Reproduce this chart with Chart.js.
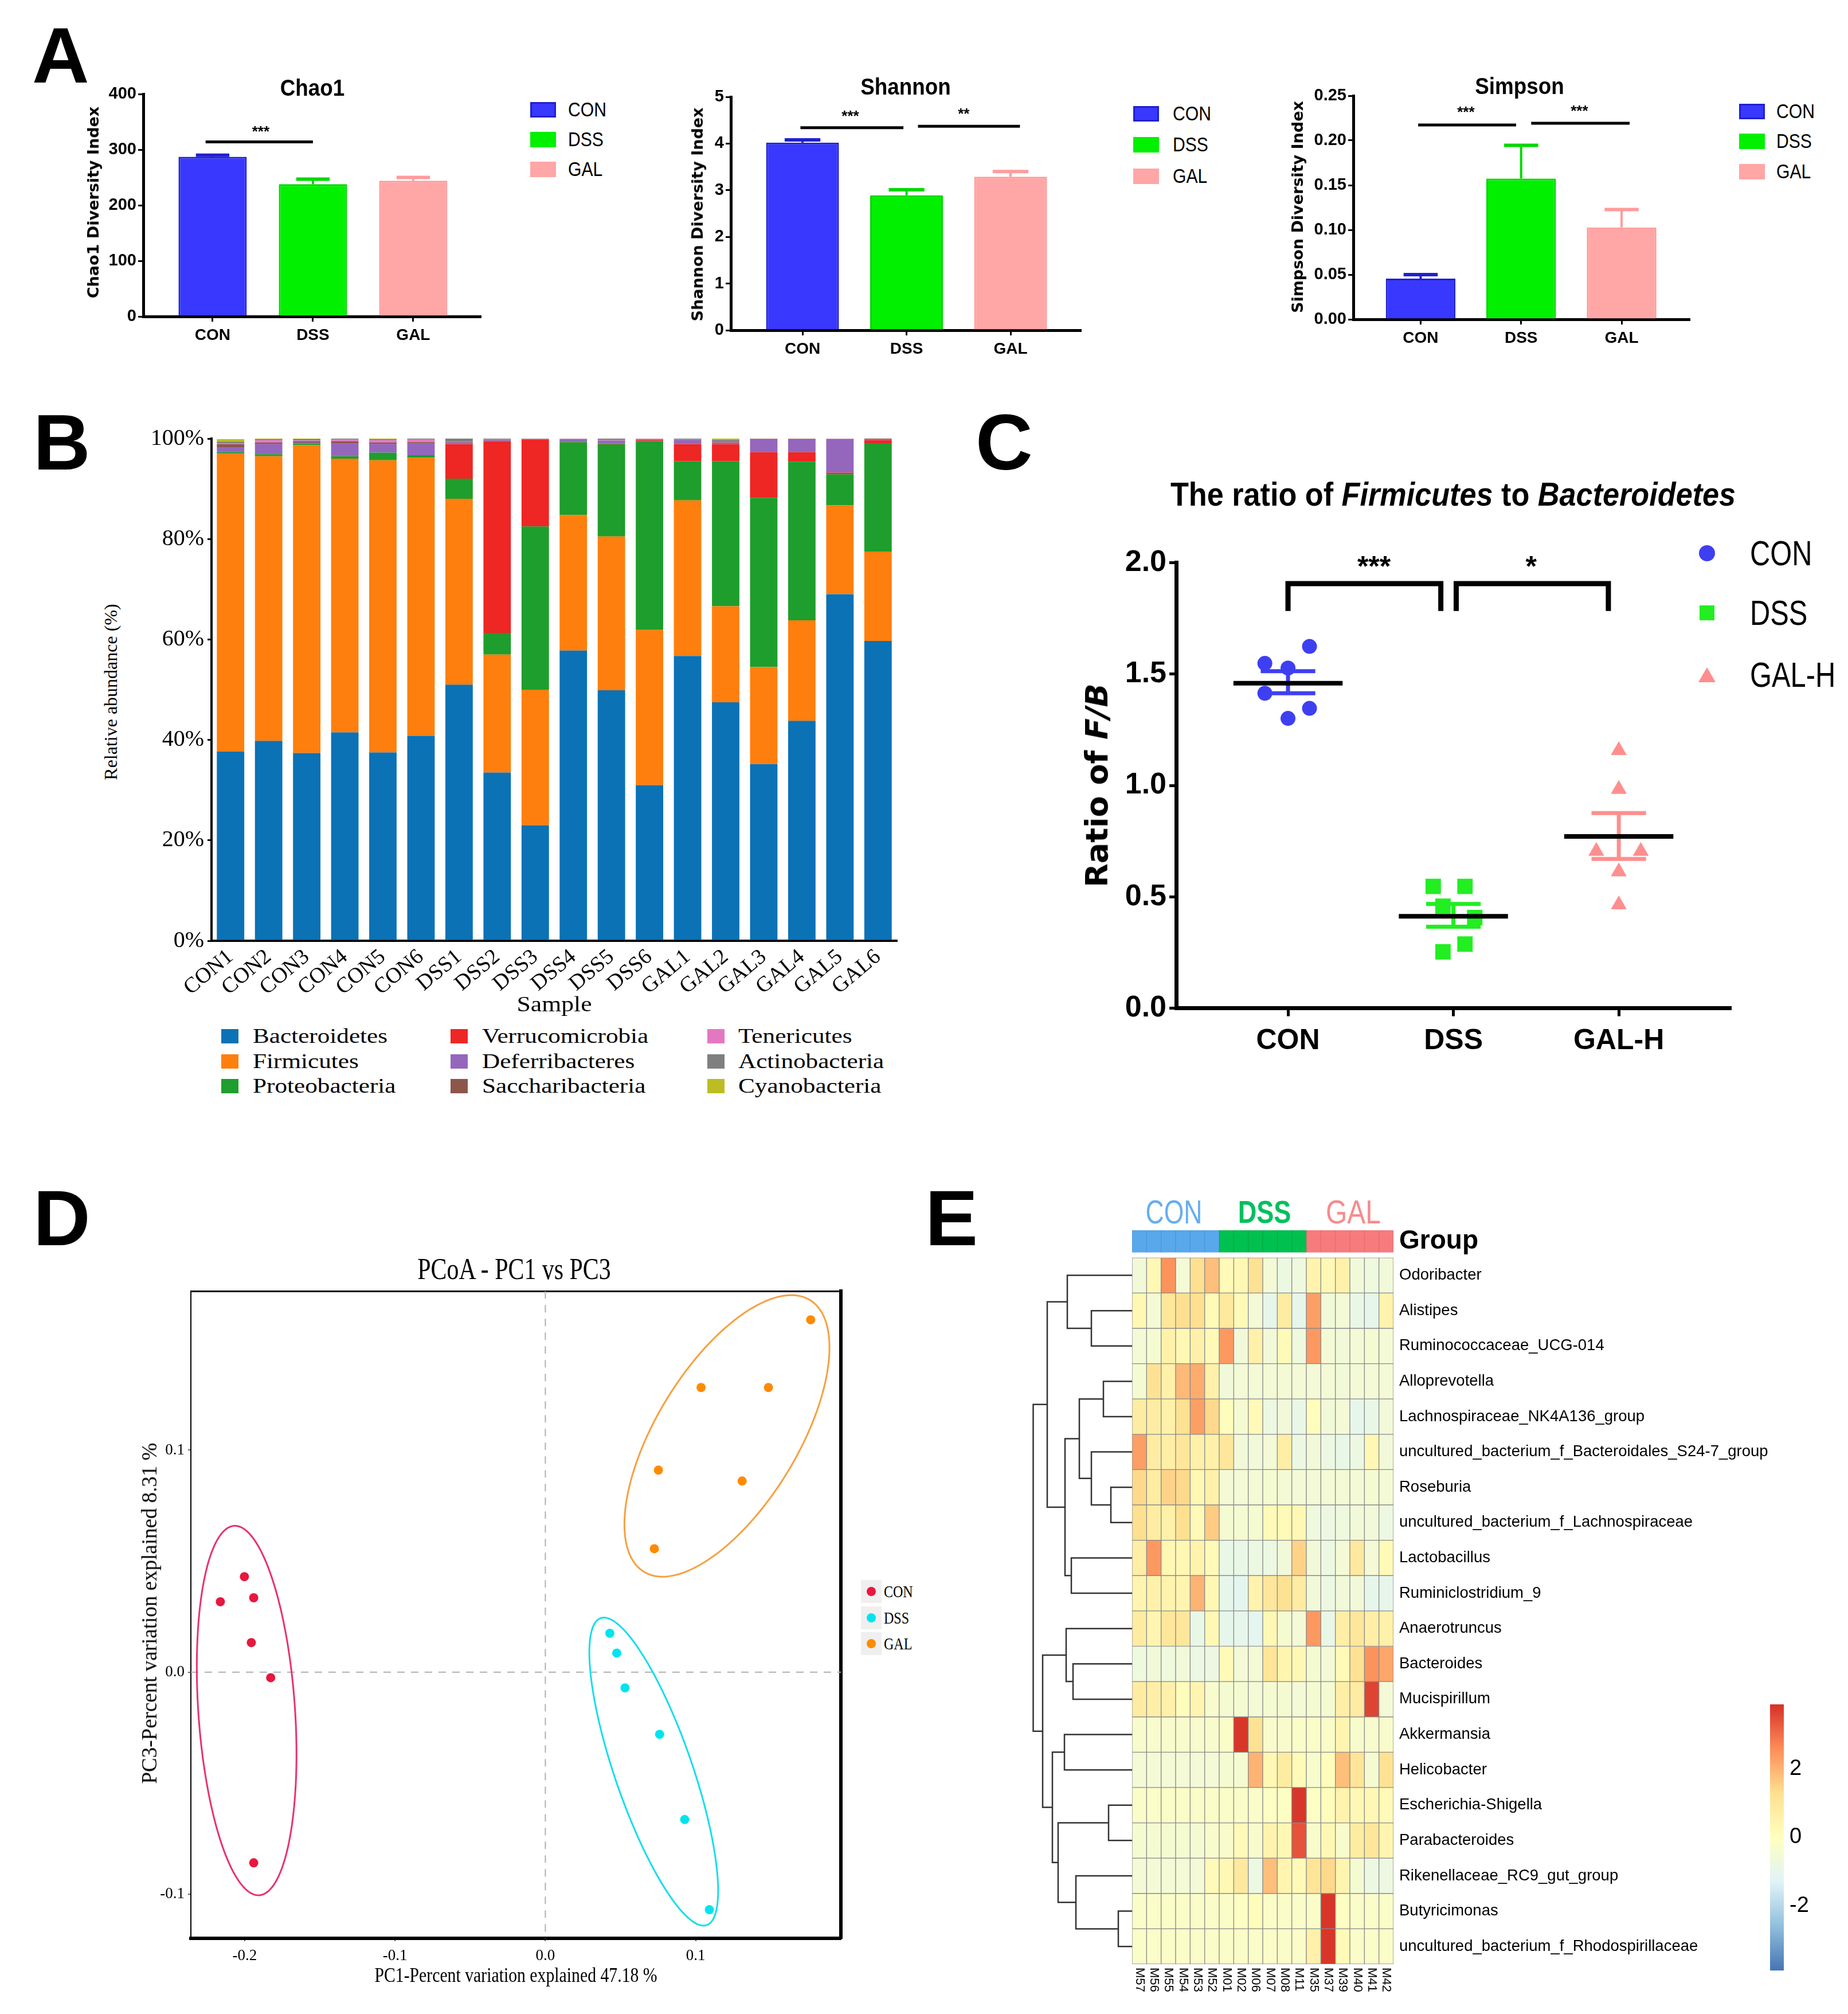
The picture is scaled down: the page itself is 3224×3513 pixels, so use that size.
<!DOCTYPE html>
<html><head><meta charset="utf-8">
<script src="https://cdn.jsdelivr.net/npm/chart.js@4.4.1/dist/chart.umd.min.js"></script>
<style>
html,body{margin:0;padding:0;background:#fff;}
#page{position:relative;width:3224px;height:3513px;overflow:hidden;background:#fff;}
#page canvas{position:absolute;}
.t{position:absolute;white-space:nowrap;}
</style></head><body><div id="page"></div>
<script>
/* ================= DATA ================= */
/* Panel A : alpha diversity (mean, SEM) */
const groupsA = ['CON', 'DSS', 'GAL'];
const chaoMean = [287, 238, 244];
const chaoSem = [3, 9, 6];
const shannonMean = [4.02, 2.89, 3.29];
const shannonSem = [0.06, 0.12, 0.11];
const simpsonMean = [0.0455, 0.1574, 0.1028];
const simpsonSem = [0.0045, 0.0372, 0.0200];
const chaoSig = [{from: 0.93, to: 2.0, y: 314, label: '***', lx: 1.48, ly: 336}];
const shannonSig = [{from: 0.98, to: 1.97, y: 4.34, label: '***', lx: 1.46, ly: 4.63},
                    {from: 2.11, to: 3.09, y: 4.37, label: '**', lx: 2.55, ly: 4.68}];
const simpsonSig = [{from: 0.975, to: 1.95, y: 0.2173, label: '***', lx: 1.45, ly: 0.234},
                    {from: 2.10, to: 3.08, y: 0.2192, label: '***', lx: 2.58, ly: 0.2353}];

/* Panel B : relative abundance of phyla (%) */
const samplesB = ['CON1','CON2','CON3','CON4','CON5','CON6','DSS1','DSS2','DSS3','DSS4','DSS5','DSS6','GAL1','GAL2','GAL3','GAL4','GAL5','GAL6'];
const phylaB = ['Bacteroidetes','Firmicutes','Proteobacteria','Verrucomicrobia','Deferribacteres','Saccharibacteria','Tenericutes','Actinobacteria','Cyanobacteria'];
const bacteroidetes   = [37.7,39.8,37.4,41.5,37.5,40.8,51.0,33.5,23.0,57.8,49.9,31.0,56.7,47.5,35.2,43.8,69.0,59.7];
const firmicutes      = [59.3,56.7,61.3,54.5,58.2,55.4,37.0,23.5,27.0,27.0,30.6,30.9,31.0,19.1,19.3,20.0,17.7,17.8];
const proteobacteria  = [0.3,0.4,0.3,0.5,1.5,0.5,4.0,4.3,32.5,14.5,18.4,37.6,7.8,28.9,33.7,31.6,6.2,21.6];
const verrucomicrobia = [0,0,0,0,0,0,6.9,38.2,17.3,0.1,0.1,0.2,3.4,3.4,9.1,1.9,0.3,0.6];
const deferribacteres = [1.0,2.0,0.2,2.5,1.7,2.3,0.3,0.2,0.1,0.4,0.6,0.1,0.8,0.2,2.6,2.6,6.7,0.1];
const saccharibacteria= [0.6,0.3,0.3,0.5,0.3,0.3,0.1,0.1,0.05,0.1,0.1,0.1,0.1,0.1,0.05,0.05,0,0.3];
const tenericutes     = [0.2,0.5,0.1,0.3,0.5,0.5,0.05,0.05,0.05,0.05,0.05,0.05,0.05,0.05,0.05,0.05,0.05,0.05];
const actinobacteria  = [0.3,0.2,0.3,0.2,0.2,0.2,0.8,0.3,0.05,0.2,0.5,0.3,0.3,0.5,0.1,0.1,0.1,0.1];
const cyanobacteria   = [0.5,0.2,0.2,0.1,0.1,0.1,0.05,0.05,0.05,0.05,0.05,0.05,0.05,0.6,0.05,0.05,0.05,0.05];
const phylaValues = [bacteroidetes, firmicutes, proteobacteria, verrucomicrobia, deferribacteres, saccharibacteria, tenericutes, actinobacteria, cyanobacteria];
const phylaColors = ['#0B72B6','#FF7F0E','#1E9E2C','#EE2624','#9467BD','#8C564B','#E377C2','#7F7F7F','#BCBD22'];

/* Panel C : F/B ratio */
const groupsC = ['CON', 'DSS', 'GAL-H'];
const conX = [0.86, 1.0, 1.13, 0.86, 1.13, 1.0];
const conY = [1.548, 1.527, 1.624, 1.414, 1.346, 1.301];
const dssX = [1.878, 2.07, 1.937, 2.129, 2.07, 1.937];
const dssY = [0.547, 0.547, 0.458, 0.407, 0.288, 0.253];
const galX = [3.0, 3.0, 2.864, 3.133, 3.0, 3.0];
const galY = [1.157, 0.983, 0.705, 0.705, 0.613, 0.465];
const cMean = [1.459, 0.413, 0.771];
const cSemHi = [1.513, 0.468, 0.876];
const cSemLo = [1.414, 0.366, 0.670];
const cBrackets = [{from: 1.0, to: 1.924, top: 1.906, leg: 1.783, label: '***', lx: 1.52, ly: 2.0},
                   {from: 2.017, to: 2.937, top: 1.906, leg: 1.783, label: '*', lx: 2.47, ly: 2.0}];

/* Panel D : PCoA */
const groupsD = ['CON', 'DSS', 'GAL'];
const pcoaConX = [-0.2162, -0.2002, -0.1940, -0.1956, -0.1827, -0.1940];
const pcoaConY = [0.0317, 0.0430, 0.0335, 0.0133, -0.0025, -0.0859];
const pcoaDssX = [0.0429, 0.0475, 0.0530, 0.0760, 0.0927, 0.1091];
const pcoaDssY = [0.0175, 0.0086, -0.0071, -0.0280, -0.0664, -0.1070];
const pcoaGalX = [0.1765, 0.1036, 0.1484, 0.0752, 0.1309, 0.0725];
const pcoaGalY = [0.1587, 0.1282, 0.1282, 0.0910, 0.0861, 0.0556];
const ellipseCenter = [[-0.1987, -0.0173], [0.0721, -0.0448], [0.1208, 0.1064]];
const ellipseAxisA  = [[-0.0083, 0.0832], [-0.0350, 0.0692], [0.0539, 0.0617]];
const ellipseAxisB  = [[-0.0321, -0.0013], [-0.0247, -0.0050], [-0.0418, 0.0146]];
const pcoaTicksX = [-0.2, -0.1, 0.0, 0.1];
const pcoaTicksY = [-0.1, 0.0, 0.1];

/* Panel E : heatmap (z-scores) */
const hmCols = ['M57','M56','M55','M54','M53','M52','M01','M02','M06','M07','M08','M11','M35','M37','M39','M40','M41','M42'];
const hmColGroup = ['CON','CON','CON','CON','CON','CON','DSS','DSS','DSS','DSS','DSS','DSS','GAL','GAL','GAL','GAL','GAL','GAL'];
const hmRows = ['Odoribacter','Alistipes','Ruminococcaceae_UCG-014','Alloprevotella','Lachnospiraceae_NK4A136_group',
  'uncultured_bacterium_f_Bacteroidales_S24-7_group','Roseburia','uncultured_bacterium_f_Lachnospiraceae','Lactobacillus',
  'Ruminiclostridium_9','Anaerotruncus','Bacteroides','Mucispirillum','Akkermansia','Helicobacter','Escherichia-Shigella',
  'Parabacteroides','Rikenellaceae_RC9_gut_group','Butyricimonas','uncultured_bacterium_f_Rhodospirillaceae'];
const hmValues = [
  [-0.6,0.3,2.5,-0.5,1.3,1.8,0.2,0.3,1.2,-0.5,-0.8,-0.7,0.5,0.3,0.6,-0.6,-0.7,-0.6],
  [0.3,-0.5,1.0,1.3,1.3,0.2,0.9,0.2,-0.5,-1.0,0.8,-1.0,2.3,-0.6,-0.5,-0.9,-1.0,0.5],
  [-0.5,-0.4,0.6,0.3,0.6,0.2,2.4,-0.6,0.6,-0.6,0.2,-0.7,2.4,-0.5,-0.6,-0.5,-0.4,-0.5],
  [-0.4,1.2,0.6,1.9,2.1,0.6,-0.6,-0.5,-0.5,-0.5,-0.5,-0.5,-0.5,-0.5,-0.6,-0.5,-0.5,-0.5],
  [0.8,0.8,0.6,1.2,2.3,1.4,0.1,-0.4,0.2,-0.8,-0.6,-0.9,0.1,-0.6,-0.5,-1.0,-0.9,-0.6],
  [2.3,0.8,0.7,1.0,0.6,0.6,1.0,-0.6,-0.6,-0.5,0.7,-0.8,-0.6,-0.8,-0.9,-0.8,0.3,-0.6],
  [1.4,0.8,1.5,1.4,0.3,0.6,-0.5,-0.5,-0.5,-0.4,-0.5,-0.5,-0.5,-0.5,-0.5,-0.5,-0.4,-0.5],
  [1.3,0.8,0.6,1.3,0.2,1.6,-0.4,-0.4,-0.4,0.2,0.2,0.3,-0.7,-0.8,-0.7,-0.6,-0.6,-0.8],
  [0.7,2.4,0.3,0.3,0.5,0.2,-0.9,-0.9,-0.8,-0.8,-0.6,1.5,-0.6,-0.8,-0.5,0.9,-0.5,0.2],
  [0.4,0.6,0.5,0.4,2.0,0.3,-1.0,-1.1,0.5,1.0,1.2,0.8,-0.6,-0.8,-0.6,-0.6,-1.0,-1.0],
  [0.8,0.4,1.0,1.0,-0.9,0.3,-1.0,-1.0,-1.1,0.3,-0.4,-0.5,2.4,-0.9,0.7,1.0,0.7,0.6],
  [-0.7,-0.6,-0.7,-0.6,-0.8,-0.8,0.2,-0.5,-0.5,1.1,0.4,0.3,-0.4,-0.5,0.2,1.2,2.5,2.2],
  [0.8,0.7,0.6,0.1,0.4,-0.3,-0.4,-0.4,-0.5,-0.4,-0.4,-0.5,-0.4,-0.4,0.7,0.8,3.6,-0.5],
  [-0.3,-0.3,-0.3,-0.3,-0.3,-0.3,-0.2,3.8,1.2,-0.3,-0.3,-0.2,-0.2,-0.2,0.4,-0.3,-0.3,-0.3],
  [-0.5,-0.5,-0.5,-0.5,-0.5,-0.5,-0.4,-0.4,2.0,0.3,0.8,0.2,-0.3,0.1,1.8,1.1,-0.4,1.2],
  [-0.2,-0.2,-0.2,-0.2,-0.2,-0.2,-0.2,-0.2,-0.2,-0.1,-0.1,3.8,-0.1,0.1,0.5,0.3,0.3,0.2],
  [-0.4,-0.4,-0.4,-0.4,-0.4,-0.3,-0.3,0.2,-0.3,0.5,0.3,3.4,-0.3,0.3,-0.3,0.8,1.0,0.4],
  [-0.5,-0.5,-0.5,-0.5,-0.5,0.2,0.3,0.9,-0.8,1.8,0.4,0.2,1.1,1.4,0.4,-0.4,-0.8,-0.8],
  [-0.2,-0.2,-0.2,-0.2,-0.2,-0.2,-0.2,-0.1,0.1,-0.2,-0.2,-0.2,-0.2,3.8,-0.1,-0.2,-0.2,-0.2],
  [-0.2,-0.2,-0.2,-0.2,-0.2,-0.2,-0.2,-0.2,-0.2,-0.2,-0.2,-0.2,0.6,3.8,0.2,-0.2,-0.2,-0.2]
];
const hmMin = -3.88, hmMax = 3.88;
const hmTicks = [-2, 0, 2];
/* row dendrogram (hclust style: negative = leaf row, positive = earlier merge) */
const dendroMerge = [[-2,-3],[-1,1],[-4,-5],[-7,-8],[-6,4],[3,5],[-9,-10],[6,7],[2,8],
  [-12,-13],[-11,10],[-14,-15],[-16,-17],[-19,-20],[-18,14],[13,15],[12,16],[11,17],[9,18]];
const dendroHeight = [71,113,50,37,71,92,106,117,148,103,115,118,41,24,98,129,139,156,172.5];

/* ================= HELPERS ================= */
const SANS = "'Liberation Sans',Arial,Helvetica,sans-serif";
const SERIF = "'Liberation Serif','Times New Roman',serif";
const WIDE = "'DejaVu Sans',Verdana,sans-serif";

Chart.defaults.animation = false;
Chart.defaults.responsive = false;
Chart.defaults.maintainAspectRatio = false;
Chart.defaults.devicePixelRatio = 1;
Chart.defaults.plugins.legend.display = false;
Chart.defaults.plugins.tooltip.enabled = false;
Chart.defaults.color = '#000';
Chart.defaults.events = [];

const page = document.getElementById('page');
function canvasAt(left, top, w, h) {
  const c = document.createElement('canvas');
  c.width = w; c.height = h;
  c.style.left = left + 'px'; c.style.top = top + 'px';
  c.style.width = w + 'px'; c.style.height = h + 'px';
  page.appendChild(c);
  return c.getContext('2d');
}
function txt(x, y, html, font, o = {}) {
  const d = document.createElement('div');
  d.className = 't';
  d.style.font = font;
  d.style.lineHeight = '0';
  d.style.left = x + 'px'; d.style.top = y + 'px';
  d.style.color = o.color || '#000';
  if (o.ls) d.style.letterSpacing = o.ls + 'px';
  d.style.transformOrigin = '0 0';
  const sx = o.sx || 1;
  let t;
  if (o.rot) t = `rotate(${o.rot}deg) scaleX(${sx}) translateX(-50%)`;
  else {
    const a = o.align || 'left';
    t = `scaleX(${sx})` + (a === 'center' ? ' translateX(-50%)' : a === 'right' ? ' translateX(-100%)' : '');
  }
  d.style.transform = t;
  d.innerHTML = html;
  page.appendChild(d);
  return d;
}
function box(x, y, w, h, color, extra) {
  const d = document.createElement('div');
  d.style.position = 'absolute';
  d.style.left = (x - w / 2) + 'px'; d.style.top = (y - h / 2) + 'px';
  d.style.width = w + 'px'; d.style.height = h + 'px';
  d.style.background = color;
  if (extra) Object.assign(d.style, extra);
  page.appendChild(d);
  return d;
}

/* ================= PANEL LETTERS ================= */
txt(56, 96, 'A', `bold 138px ${SANS}`);
txt(58, 771, 'B', `bold 138px ${SANS}`);
txt(1702, 771, 'C', `bold 138px ${SANS}`);
txt(58, 2124, 'D', `bold 138px ${SANS}`);
txt(1614, 2124, 'E', `bold 138px ${SANS}`);

/* ================= PANEL A ================= */
const colA = ['#3838FF', '#00F000', '#FFA6A6'];
const colAEdge = ['#2020D0', '#00D800', '#FF9C9C'];

function errPlugin(c) {
  return {
    id: 'errbars',
    afterDatasetsDraw(chart) {
      const {ctx, scales: {x, y}} = chart;
      ctx.save();
      c.mean.forEach((m, i) => {
        const el = chart.getDatasetMeta(i).data[0];
        const xc = el.x, half = el.width * 0.245;
        const y0 = y.getPixelForValue(m), y1 = y.getPixelForValue(m + c.sem[i]);
        ctx.strokeStyle = colAEdge[i];
        ctx.lineWidth = 4; ctx.beginPath(); ctx.moveTo(xc, y0); ctx.lineTo(xc, y1); ctx.stroke();
        ctx.lineWidth = 6; ctx.beginPath(); ctx.moveTo(xc - half, y1); ctx.lineTo(xc + half, y1); ctx.stroke();
      });
      c.sig.forEach(s => {
        const yy = y.getPixelForValue(s.y);
        ctx.strokeStyle = '#000'; ctx.lineWidth = 5;
        ctx.beginPath(); ctx.moveTo(x.getPixelForValue(s.from), yy); ctx.lineTo(x.getPixelForValue(s.to), yy); ctx.stroke();
        ctx.fillStyle = '#000'; ctx.font = `bold 26px ${SANS}`;
        ctx.textAlign = 'center'; ctx.textBaseline = 'middle';
        ctx.fillText(s.label, x.getPixelForValue(s.lx), y.getPixelForValue(s.ly) + 5);
      });
      ctx.restore();
    }
  };
}

function alphaChart(c) {
  const ctx = canvasAt(c.cl, c.ct, c.cw, c.ch);
  const datasets = c.mean.map((m, i) => ({
    label: groupsA[i], data: [{x: i + 1, y: m}],
    backgroundColor: colA[i], borderColor: colAEdge[i], borderWidth: 3, borderSkipped: 'bottom',
    barPercentage: c.barPct, categoryPercentage: 1, grouped: false
  }));
  new Chart(ctx, {
    type: 'bar',
    data: {datasets},
    options: {
      datasets: {bar: {grouped: false}},
      layout: {padding: {left: 0, top: c.axT - c.ct, right: c.cl + c.cw - c.axR, bottom: 0}},
      scales: {
        x: {type: 'linear', min: c.xmin, max: c.xmax, offset: false,
            afterBuildTicks: s => { s.ticks = groupsA.map((g, i) => ({value: i + 1})); },
            afterFit: s => { s.height = c.ct + c.ch - c.axB; },
            ticks: {callback: v => groupsA[Math.round(v) - 1], font: {family: SANS, weight: 'bold', size: 28},
                    color: '#000', padding: 7, maxRotation: 0, autoSkip: false},
            grid: {drawOnChartArea: false, drawTicks: true, tickLength: 9, color: '#000', lineWidth: 3, offset: false},
            border: {color: '#000', width: 5}},
        y: {min: 0, max: c.ymax,
            afterFit: s => { s.width = c.axL - c.cl; },
            ticks: {stepSize: c.step, callback: c.fmt, font: {family: SANS, weight: 'bold', size: 29}, color: '#000', padding: 3},
            grid: {drawOnChartArea: false, drawTicks: true, tickLength: 9, color: '#000', lineWidth: 3},
            border: {color: '#000', width: 5}}
      }
    },
    plugins: [errPlugin(c)]
  });
}
alphaChart({cl: 120, ct: 130, cw: 740, ch: 500, axL: 250, axT: 164, axB: 552, axR: 838,
  xmin: 0.309, xmax: 3.669, barPct: 0.68, ymax: 400, step: 100, fmt: v => String(v),
  mean: chaoMean, sem: chaoSem, sig: chaoSig});
alphaChart({cl: 1145, ct: 130, cw: 760, ch: 520, axL: 1275, axT: 169, axB: 576, axR: 1885,
  xmin: 0.311, xmax: 3.672, barPct: 0.70, ymax: 5, step: 1, fmt: v => String(v),
  mean: shannonMean, sem: shannonSem, sig: shannonSig});
alphaChart({cl: 2200, ct: 130, cw: 770, ch: 500, axL: 2361, axT: 167, axB: 557, axR: 2947,
  xmin: 0.330, xmax: 3.673, barPct: 0.693, ymax: 0.25, step: 0.05, fmt: v => v.toFixed(2),
  mean: simpsonMean, sem: simpsonSem, sig: simpsonSig});

txt(545, 153, 'Chao1', `bold 40px ${SANS}`, {align: 'center', sx: 0.92});
txt(1580, 151, 'Shannon', `bold 40px ${SANS}`, {align: 'center', sx: 0.92});
txt(2651, 150, 'Simpson', `bold 40px ${SANS}`, {align: 'center', sx: 0.92});
txt(163, 353, 'Chao1 Diversity Index', `bold 27px ${WIDE}`, {rot: -90});
txt(1217, 374, 'Shannon Diversity Index', `bold 27px ${WIDE}`, {rot: -90});
txt(2264, 361, 'Simpson Diversity Index', `bold 27px ${WIDE}`, {rot: -90});
[[947, 991, [191, 243, 295]], [1999, 2046, [198, 252, 307]], [3056, 3099, [194, 246, 299]]].forEach(([bx, tx, ys]) => {
  groupsA.forEach((g, i) => {
    box(bx, ys[i], 45, 27, colA[i], {boxShadow: i === 0 ? 'inset 0 0 0 3px #2020D0' : 'none'});
    txt(tx, ys[i], g, `35px ${SANS}`, {sx: 0.86});
  });
});

/* ================= PANEL B ================= */
(function () {
  const ctx = canvasAt(250, 730, 1345, 1040);
  new Chart(ctx, {
    type: 'bar',
    data: {labels: samplesB, datasets: phylaB.map((name, k) => ({
      label: name, data: phylaValues[k], backgroundColor: phylaColors[k], borderWidth: 0,
      barPercentage: 0.72, categoryPercentage: 1}))},
    options: {
      layout: {padding: {left: 0, top: 35, right: 30, bottom: 0}},
      scales: {
        x: {stacked: true, afterFit: s => { s.height = 1770 - 1641; },
            ticks: {font: {family: SERIF, size: 38}, color: '#000', minRotation: 40, maxRotation: 40, autoSkip: false, padding: 6},
            grid: {display: true, drawOnChartArea: false, drawTicks: false, color: '#000'},
            border: {color: '#000', width: 4}},
        y: {stacked: true, min: 0, max: 100, afterFit: s => { s.width = 119; },
            ticks: {stepSize: 20, callback: v => v + '%', font: {family: SERIF, size: 40}, color: '#000', padding: 6},
            grid: {drawOnChartArea: false, drawTicks: true, tickLength: 7, color: '#000', lineWidth: 3},
            border: {color: '#000', width: 4}}
      }
    }
  });
  txt(967, 1751, 'Sample', `38px ${SERIF}`, {align: 'center', sx: 1.15});
  txt(193, 1207, 'Relative abundance (%)', `32px ${SERIF}`, {rot: -90});
  const colX = [[401, 441], [801, 841], [1249, 1288]];
  const rowY = [1807, 1851, 1894];
  phylaB.forEach((name, k) => {
    const col = Math.floor(k / 3), row = k % 3;
    box(colX[col][0], rowY[row], 30, 25, phylaColors[k]);
    txt(colX[col][1], rowY[row], name, `36px ${SERIF}`, {sx: 1.2});
  });
})();

/* ================= PANEL C ================= */
const colC = ['#3F3FF2', '#22EE22', '#FF8E8E'];
(function () {
  const ctx = canvasAt(1880, 920, 1160, 980);
  const pts = (xs, ys) => xs.map((x, i) => ({x, y: ys[i]}));
  const datasets = [
    {data: pts(conX, conY), pointStyle: 'circle', pointRadius: 13, backgroundColor: colC[0], borderWidth: 0, order: 3},
    {data: pts(dssX, dssY), pointStyle: 'rect', pointRadius: 19, backgroundColor: colC[1], borderWidth: 0, order: 3},
    {data: pts(galX, galY), pointStyle: 'triangle', pointRadius: 16, backgroundColor: colC[2], borderWidth: 0, order: 3}
  ];
  cMean.forEach((m, i) => {
    const xc = i + 1;
    datasets.push({data: [{x: xc - 0.165, y: cSemHi[i]}, {x: xc + 0.165, y: cSemHi[i]}, {x: xc, y: cSemHi[i]},
                          {x: xc, y: cSemLo[i]}, {x: xc - 0.165, y: cSemLo[i]}, {x: xc + 0.165, y: cSemLo[i]}],
      showLine: true, borderColor: colC[i], borderWidth: 7, pointRadius: 0, order: 2, borderJoinStyle: 'miter'});
    datasets.push({data: [{x: xc - 0.33, y: m}, {x: xc + 0.33, y: m}],
      showLine: true, borderColor: '#000', borderWidth: 8, pointRadius: 0, order: 1});
  });
  cBrackets.forEach(b => {
    datasets.push({data: [{x: b.from, y: b.leg}, {x: b.from, y: b.top}, {x: b.to, y: b.top}, {x: b.to, y: b.leg}],
      showLine: true, borderColor: '#000', borderWidth: 9, pointRadius: 0, order: 0, borderJoinStyle: 'miter', clip: false});
  });
  new Chart(ctx, {
    type: 'scatter',
    data: {datasets},
    options: {
      layout: {padding: {left: 0, top: 61.5, right: 22, bottom: 0}},
      scales: {
        x: {type: 'linear', min: 0.324, max: 3.672,
            afterBuildTicks: s => { s.ticks = groupsC.map((g, i) => ({value: i + 1})); },
            afterFit: s => { s.height = 1900 - 1758.6; },
            ticks: {callback: v => groupsC[Math.round(v) - 1], font: {family: SANS, weight: 'bold', size: 50}, color: '#000', padding: 14, maxRotation: 0, autoSkip: false},
            grid: {drawOnChartArea: false, drawTicks: true, tickLength: 14, color: '#000', lineWidth: 5},
            border: {color: '#000', width: 7}},
        y: {min: 0, max: 2,
            afterFit: s => { s.width = 172; },
            ticks: {stepSize: 0.5, callback: v => v.toFixed(1), font: {family: SANS, weight: 'bold', size: 52}, color: '#000', padding: 5},
            grid: {drawOnChartArea: false, drawTicks: true, tickLength: 12, color: '#000', lineWidth: 5},
            border: {color: '#000', width: 7}}
      }
    },
    plugins: [{
      id: 'stars',
      afterDatasetsDraw(chart) {
        const {ctx, scales: {x, y}} = chart;
        ctx.save();
        ctx.fillStyle = '#000'; ctx.font = `bold 50px ${SANS}`; ctx.textAlign = 'center'; ctx.textBaseline = 'middle';
        cBrackets.forEach(b => ctx.fillText(b.label, x.getPixelForValue(b.lx), y.getPixelForValue(b.ly) + 10));
        ctx.restore();
      }
    }]
  });
  txt(2535, 862, 'The ratio of <i>Firmicutes</i> to <i>Bacteroidetes</i>', `bold 58px ${SANS}`, {align: 'center', sx: 0.9});
  txt(1914, 1370, 'Ratio of <i>F/B</i>', `bold 54px ${WIDE}`, {rot: -90});
  const ly = [965, 1069, 1177];
  box(2978, ly[0], 28, 28, colC[0], {borderRadius: '50%'});
  box(2978, ly[1], 26, 26, colC[1]);
  box(2978, ly[2], 0, 0, 'transparent', {borderLeft: '15px solid transparent', borderRight: '15px solid transparent', borderBottom: '26px solid ' + colC[2], left: '2963px', top: '1164px'});
  groupsC.forEach((g, i) => txt(3053, ly[i], g, `61px ${SANS}`, {sx: 0.8}));
})();

/* ================= PANEL D ================= */
const colD = ['#E8173E', '#00E4EE', '#FF8A00'];
const colDEll = ['#E8336A', '#18DDEB', '#F7A040'];
(function () {
  const ctx = canvasAt(180, 2230, 1320, 1210);
  const pts = (xs, ys) => xs.map((x, i) => ({x, y: ys[i]}));
  const sets = [[pcoaConX, pcoaConY], [pcoaDssX, pcoaDssY], [pcoaGalX, pcoaGalY]];
  const xMin = -0.2358, xMax = 0.1966, yMin = -0.1199, yMax = 0.1716;
  new Chart(ctx, {
    type: 'scatter',
    data: {datasets: sets.map((s, i) => ({label: groupsD[i], data: pts(s[0], s[1]), pointRadius: 8,
      backgroundColor: colD[i], borderWidth: 0}))},
    options: {
      layout: {padding: {left: 0, top: 12, right: 33, bottom: 0}},
      scales: {
        x: {type: 'linear', min: xMin, max: xMax, position: 'bottom',
            afterBuildTicks: s => { s.ticks = pcoaTicksX.map(v => ({value: v})); },
            afterFit: s => { s.height = 1210 - (3381 - 2230); },
            ticks: {callback: v => v.toFixed(1), font: {family: SERIF, size: 27}, color: '#000', padding: 10, maxRotation: 0, autoSkip: false},
            grid: {drawOnChartArea: false, drawTicks: true, tickLength: 5, color: '#666', lineWidth: 2},
            border: {color: '#000', width: 6}},
        y: {type: 'linear', min: yMin, max: yMax,
            afterBuildTicks: s => { s.ticks = pcoaTicksY.map(v => ({value: v})); },
            afterFit: s => { s.width = 333 - 180; },
            ticks: {callback: v => v.toFixed(1), font: {family: SERIF, size: 27}, color: '#000', padding: 6, autoSkip: false},
            grid: {drawOnChartArea: false, drawTicks: true, tickLength: 5, color: '#666', lineWidth: 2},
            border: {color: '#000', width: 2}},
        x2: {type: 'linear', min: xMin, max: xMax, position: 'top', afterFit: s => { s.height = 0; },
             ticks: {display: false}, grid: {drawOnChartArea: false, drawTicks: false}, border: {color: '#000', width: 3}},
        y2: {type: 'linear', min: yMin, max: yMax, position: 'right', afterFit: s => { s.width = 0; },
             ticks: {display: false}, grid: {drawOnChartArea: false, drawTicks: false}, border: {color: '#000', width: 6}}
      }
    },
    plugins: [{
      id: 'refAndEllipses',
      beforeDatasetsDraw(chart) {
        const {ctx, chartArea: a, scales: {x, y}} = chart;
        ctx.save();
        ctx.strokeStyle = '#B0B0B0'; ctx.lineWidth = 2; ctx.setLineDash([13, 11]);
        const x0 = x.getPixelForValue(0), y0 = y.getPixelForValue(0);
        ctx.beginPath(); ctx.moveTo(x0, a.top); ctx.lineTo(x0, a.bottom); ctx.stroke();
        ctx.beginPath(); ctx.moveTo(a.left, y0); ctx.lineTo(a.right, y0); ctx.stroke();
        ctx.setLineDash([]);
        ctx.lineWidth = 3;
        ellipseCenter.forEach((c, i) => {
          const A = ellipseAxisA[i], B = ellipseAxisB[i];
          ctx.strokeStyle = colDEll[i];
          ctx.beginPath();
          for (let k = 0; k <= 180; k++) {
            const t = k / 180 * 2 * Math.PI;
            const px = x.getPixelForValue(c[0] + A[0] * Math.cos(t) + B[0] * Math.sin(t));
            const py = y.getPixelForValue(c[1] + A[1] * Math.cos(t) + B[1] * Math.sin(t));
            if (k === 0) ctx.moveTo(px, py); else ctx.lineTo(px, py);
          }
          ctx.closePath(); ctx.stroke();
        });
        ctx.restore();
      }
    }]
  });
  txt(897, 2213, 'PCoA - PC1 vs PC3', `53px ${SERIF}`, {align: 'center', sx: 0.79});
  txt(900, 3446, 'PC1-Percent variation explained 47.18 %', `35px ${SERIF}`, {align: 'center', sx: 0.85});
  txt(261, 2814, 'PC3-Percent variation explained 8.31 %', `37px ${SERIF}`, {rot: -90});
  const ly = [2776, 2822, 2867];
  groupsD.forEach((g, i) => {
    box(1520, ly[i], 36, 40, '#EFEFEF');
    box(1520, ly[i], 16, 16, colD[i], {borderRadius: '50%'});
    txt(1542, ly[i], g, `30px ${SERIF}`, {sx: 0.8});
  });
})();

/* ================= PANEL E ================= */
const hmPalette = ['#4575B4', '#91BFDB', '#E0F3F8', '#FFFFBF', '#FEE090', '#FC8D59', '#D73027'];
const groupColor = {CON: '#58A8EC', DSS: '#00C050', GAL: '#F77B7D'};
const groupEdge = {CON: '#4C98DA', DSS: '#00AA46', GAL: '#E86E70'};
function hexRgb(h) { return [parseInt(h.slice(1, 3), 16), parseInt(h.slice(3, 5), 16), parseInt(h.slice(5, 7), 16)]; }
function heatColor(v) {
  let t = (v - hmMin) / (hmMax - hmMin); t = Math.max(0, Math.min(1, t));
  const pos = t * (hmPalette.length - 1), i = Math.min(Math.floor(pos), hmPalette.length - 2), f = pos - i;
  const a = hexRgb(hmPalette[i]), b = hexRgb(hmPalette[i + 1]);
  return `rgb(${a.map((c, k) => Math.round(c + (b[k] - c) * f)).join(',')})`;
}
const hmTop = 2116, hmCanvasH = 1384, hmPadTop = 30, hmPadBottom = 74, hmYMin = -0.775;
(function () {
  const ctx = canvasAt(1975, hmTop, 1249, hmCanvasH);
  const datasets = [{
    data: hmCols.map(() => [hmYMin, -0.15]),
    backgroundColor: hmColGroup.map(g => groupColor[g]), borderColor: hmColGroup.map(g => groupEdge[g]),
    borderWidth: 1, borderSkipped: false, barPercentage: 1, categoryPercentage: 1, grouped: false
  }];
  hmValues.forEach((row, r) => datasets.push({
    data: row.map(() => [r, r + 1]),
    backgroundColor: row.map(v => heatColor(v)), borderColor: '#8A8A8A',
    borderWidth: 1, borderSkipped: false, barPercentage: 1, categoryPercentage: 1, grouped: false
  }));
  new Chart(ctx, {
    type: 'bar',
    data: {labels: hmCols, datasets},
    options: {
      datasets: {bar: {grouped: false}},
      layout: {padding: {left: 0, top: hmPadTop, right: 0, bottom: hmPadBottom}},
      scales: {
        x: {display: false},
        y: {type: 'linear', reverse: true, min: hmYMin, max: 20, position: 'right',
            afterBuildTicks: s => { s.ticks = [{value: (hmYMin - 0.15) / 2}].concat(hmRows.map((n, i) => ({value: i + 0.5}))); },
            afterFit: s => { s.width = 1249 - 456; },
            ticks: {autoSkip: false, padding: 10, color: '#000',
                    callback: (v, i) => i === 0 ? 'Group' : hmRows[i - 1],
                    font: c => c.index === 0 ? {family: SANS, weight: 'bold', size: 46} : {family: SANS, size: 27.5}},
            grid: {display: false, drawTicks: false}, border: {display: false}}
      }
    },
    plugins: [{
      id: 'colLabels',
      afterDraw(chart) {
        const {ctx, scales: {x}, chartArea} = chart;
        ctx.save();
        ctx.font = `22px ${SANS}`; ctx.fillStyle = '#000'; ctx.textAlign = 'left'; ctx.textBaseline = 'middle';
        hmCols.forEach((lab, i) => {
          ctx.save(); ctx.translate(x.getPixelForValue(i), chartArea.bottom + 6); ctx.rotate(Math.PI / 2);
          ctx.fillText(lab, 0, 0); ctx.restore();
        });
        ctx.restore();
      }
    }]
  });
})();
/* dendrogram */
(function () {
  const ctx = canvasAt(1790, hmTop, 185, hmCanvasH);
  const nodes = [], datasets = [];
  const pos = ref => ref < 0 ? {h: 0, y: -ref - 0.5} : nodes[ref - 1];
  dendroMerge.forEach((m, k) => {
    const a = pos(m[0]), b = pos(m[1]), h = dendroHeight[k];
    nodes.push({h, y: (a.y + b.y) / 2});
    datasets.push({data: [{x: a.h, y: a.y}, {x: h, y: a.y}, {x: h, y: b.y}, {x: b.h, y: b.y}],
      showLine: true, pointRadius: 0, borderColor: '#333', borderWidth: 2.5, clip: false, borderJoinStyle: 'miter'});
  });
  new Chart(ctx, {
    type: 'scatter',
    data: {datasets},
    options: {
      layout: {padding: {left: 0, top: hmPadTop, right: 0, bottom: hmPadBottom}},
      scales: {
        x: {type: 'linear', display: false, min: 0, max: 185, reverse: true},
        y: {type: 'linear', display: false, min: hmYMin, max: 20, reverse: true}
      }
    }
  });
})();
/* colour key */
(function () {
  const ctx = canvasAt(3080, 2940, 144, 530);
  new Chart(ctx, {
    type: 'bar',
    data: {labels: ['key'], datasets: [{
      data: [[hmMin, hmMax]], barPercentage: 1, categoryPercentage: 1, borderWidth: 0,
      backgroundColor: c => {
        const a = c.chart.chartArea; if (!a) return '#fff';
        const g = c.chart.ctx.createLinearGradient(0, a.bottom, 0, a.top);
        hmPalette.forEach((col, i) => g.addColorStop(i / (hmPalette.length - 1), col));
        return g;
      }}]},
    options: {
      layout: {padding: {left: 8, top: 31, right: 0, bottom: 26}},
      scales: {
        x: {display: false},
        y: {min: hmMin, max: hmMax, position: 'right',
            afterBuildTicks: s => { s.ticks = hmTicks.map(v => ({value: v})); },
            afterFit: s => { s.width = 112; },
            ticks: {font: {family: SANS, size: 38}, color: '#000', padding: 10, callback: v => String(v)},
            grid: {display: false, drawTicks: false}, border: {display: false}}
      }
    }
  });
})();
txt(2048, 2114, 'CON', `57px ${SANS}`, {align: 'center', color: '#66AEEF', sx: 0.78});
txt(2206, 2114, 'DSS', `bold 55px ${SANS}`, {align: 'center', color: '#00C060', sx: 0.82});
txt(2361, 2114, 'GAL', `57px ${SANS}`, {align: 'center', color: '#F88A8C', sx: 0.84});
</script>
</body></html>
